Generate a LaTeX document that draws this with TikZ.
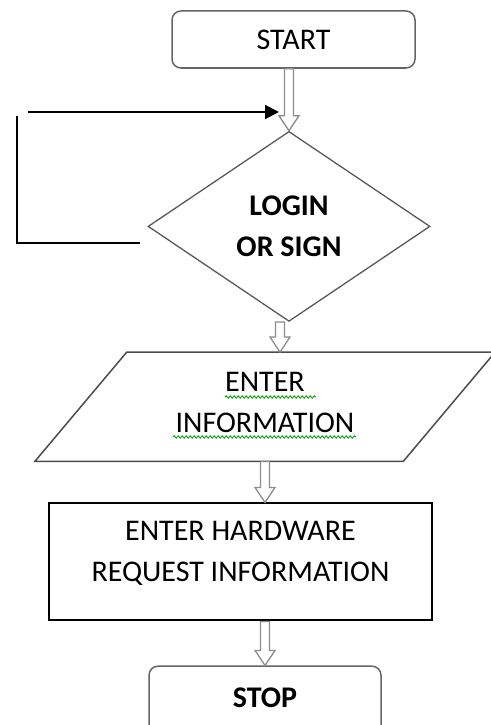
\documentclass[tikz,border=0pt]{standalone}
\usepackage{fontspec}
\setmainfont{Carlito}
\usetikzlibrary{arrows.meta, positioning, shapes.geometric, calc, decorations.pathmorphing}

\begin{document}
\begin{tikzpicture}[x=1pt,y=-1pt,node distance=40pt,font=\fontsize{30}{41}\selectfont,
    terminal/.style={rectangle,rounded corners=9pt,draw=black!60,line width=1.5pt,minimum width=243pt,minimum height=57pt},
    decision/.style={diamond,draw=black!65,line width=1.3pt,minimum width=282pt,minimum height=190pt,inner sep=0pt,align=center,font=\fontsize{30}{41}\selectfont\bfseries},
    io/.style={rectangle,minimum width=368pt,minimum height=109pt,inner sep=0pt,align=center},
    iobox/.style={draw=black!70,line width=1.5pt},
    process/.style={rectangle,draw,line width=2pt,minimum width=383pt,minimum height=117pt,align=center},
    blockarrow/.style={draw=black!45,line width=1.3pt,fill=white,
        to path={let \p1=(\tikztostart), \p2=(\tikztotarget) in
            (\x2-4.5pt,\y1) -- (\x2-4.5pt,\y2+15pt) -- (\x2-10pt,\y2+15pt) -- (\x2,\y2)
            -- (\x2+10pt,\y2+15pt) -- (\x2+4.5pt,\y2+15pt) -- (\x2+4.5pt,\y1) -- cycle}},
    loopline/.style={line width=2pt},
    spell/.style={draw=green!60!black,line width=0.8pt,decorate,decoration={snake,amplitude=1.3pt,segment length=4pt}}]

    \useasboundingbox (0,0) rectangle (490,725);

    % flow boxes
    \node[terminal] (start) at (293.5,39.5) {START};
    \node[decision] (login) [below=62pt of start, xshift=-4.5pt] {LOGIN\\OR SIGN};
    \node[io] (info) [below=30pt of login, xshift=-24pt] {};
    \draw[iobox] ([xshift=46pt]info.north west) -- ([xshift=46pt]info.north east)
        -- ([xshift=-46pt]info.south east) -- ([xshift=-46pt]info.south west) -- cycle;
    \node[align=center] (infotext) at ([yshift=4pt]info.center) {ENTER \\INFORMATION};
    \node[process, label={[align=center,yshift=9pt]center:ENTER HARDWARE\\REQUEST INFORMATION}] (hwreq) [below=41pt of info, xshift=-24.5pt] {};
    \node[terminal, minimum width=232pt, minimum height=70pt, text depth=8pt, font=\fontsize{30}{41}\selectfont\bfseries] (stop) [below=44pt of hwreq, xshift=24.5pt] {STOP};

    % spell check marks
    \draw[spell] (225,397) -- (316,397);
    \draw[spell] (173,437) -- (356,437);

    % hollow arrows
    \draw[blockarrow] (start.south) to (login.north);
    \draw[blockarrow] (login.south) to ([xshift=-9pt]login.south |- info.north);
    \draw[blockarrow] (info.south) to (info.south |- hwreq.north);
    \draw[blockarrow] (hwreq.south) to (stop.north);

    % loop back
    \coordinate (backstart) at (140,243);
    \coordinate (backcorner) at (17,243);
    \coordinate (backtop) at (17,116);
    \coordinate (backin) at (28,112);
    \coordinate (backend) at (279,112);
    \draw[loopline] (backstart) -- (backcorner) -- (backtop);
    \draw[loopline,-{Triangle[length=14pt,width=14pt]}] (backin) -- (backend);
\end{tikzpicture}
\end{document}
